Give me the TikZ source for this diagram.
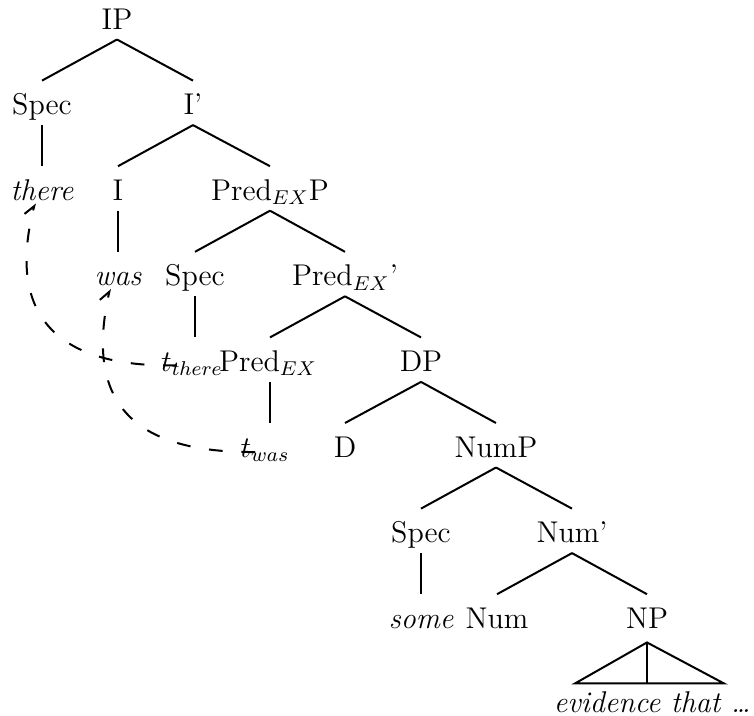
\documentclass[tikz,border=0pt]{standalone}
\usetikzlibrary{arrows.meta}
\begin{document}
\begin{tikzpicture}[x=0.4pt,y=-0.4pt,
  lab/.style={anchor=base,inner sep=0pt,text height=13.4pt,text depth=4pt,font=\fontsize{12}{14}\selectfont},
  branch/.style={line width=0.8pt},
  move/.style={line width=0.8pt,dash pattern=on 5.5pt off 7.5pt,-{Straight Barb[left,length=4pt,width=6pt]}}]
\useasboundingbox (0,0) rectangle (754,715);
% row 0
\node[lab] (ip) at (117,29) {IP};
% row 1
\node[lab] (spec1) at (42,114.6) {Spec};
\node[lab] (ibar) at (193,114.6) {I'};
% row 2
\node[lab] (there) at (42,200.2) {\itshape there};
\node[lab] (i) at (118,200.2) {I};
\node[lab] (predp) at (270,200.2) {Pred$_{EX}$P};
% row 3
\node[lab] (was) at (118,285.8) {\itshape was};
\node[lab] (spec2) at (195,285.8) {Spec};
\node[lab] (predbar) at (345,285.8) {Pred$_{EX}$'};
% row 4
\node[lab] (tthere) at (192,371.4) {$t_{there}$};
\node[lab] (predex) at (268,371.4) {Pred$_{EX}$};
\node[lab] (dp) at (421,371.4) {DP};
% row 5
\node[lab] (twas) at (265,457) {$t_{was}$};
\node[lab] (d) at (345,457) {D};
\node[lab] (nump) at (496,457) {NumP};
% row 6
\node[lab] (spec3) at (421,542.6) {Spec};
\node[lab] (numbar) at (572,542.6) {Num'};
% row 7
\node[lab] (some) at (421,628.2) {\itshape some};
\node[lab] (num) at (497,628.2) {Num};
\node[lab] (np) at (647,628.2) {NP};
% row 8
\node[lab,anchor=base east] (evid) at (751,712) {\itshape evidence that \ldots};
% branches
\draw[branch] (ip.south) -- (spec1.north);
\draw[branch] (ip.south) -- (ibar.north);
\draw[branch] (spec1.south) -- (there.north);
\draw[branch] (ibar.south) -- (i.north);
\draw[branch] (ibar.south) -- (predp.north);
\draw[branch] (i.south) -- (was.north);
\draw[branch] (predp.south) -- (spec2.north);
\draw[branch] (predp.south) -- (predbar.north);
\draw[branch] (spec2.south) -- (spec2.south |- tthere.north);
\draw[branch] (predbar.south) -- ([xshift=0.8pt]predex.north);
\draw[branch] (predbar.south) -- (dp.north);
\draw[branch] ([xshift=0.8pt]predex.south) -- ([xshift=0.8pt]predex.south |- twas.north);
\draw[branch] (dp.south) -- (d.north);
\draw[branch] (dp.south) -- (nump.north);
\draw[branch] (nump.south) -- (spec3.north);
\draw[branch] (nump.south) -- (numbar.north);
\draw[branch] (spec3.south) -- (some.north);
\draw[branch] (numbar.south) -- (num.north);
\draw[branch] (numbar.south) -- (np.north);
% triangle
\coordinate (apex) at ([yshift=-1.5pt]np.south);
\draw[branch,line join=miter] (apex) -- ++(-72,41) -- ++(149,0) -- cycle;
\draw[branch] (apex) -- ++(0,41);
% movement
\draw[move] ([xshift=6.5pt,yshift=2.4pt]tthere.base west) .. controls (40,368) and (10,300) .. ([xshift=-2.8pt,yshift=-1.2pt]there.base);
\draw[move] ([xshift=6pt,yshift=2pt]twas.base west) .. controls (130,453) and (85,400) .. ([xshift=-3.2pt,yshift=-1.2pt]was.base);
\end{tikzpicture}
\end{document}
